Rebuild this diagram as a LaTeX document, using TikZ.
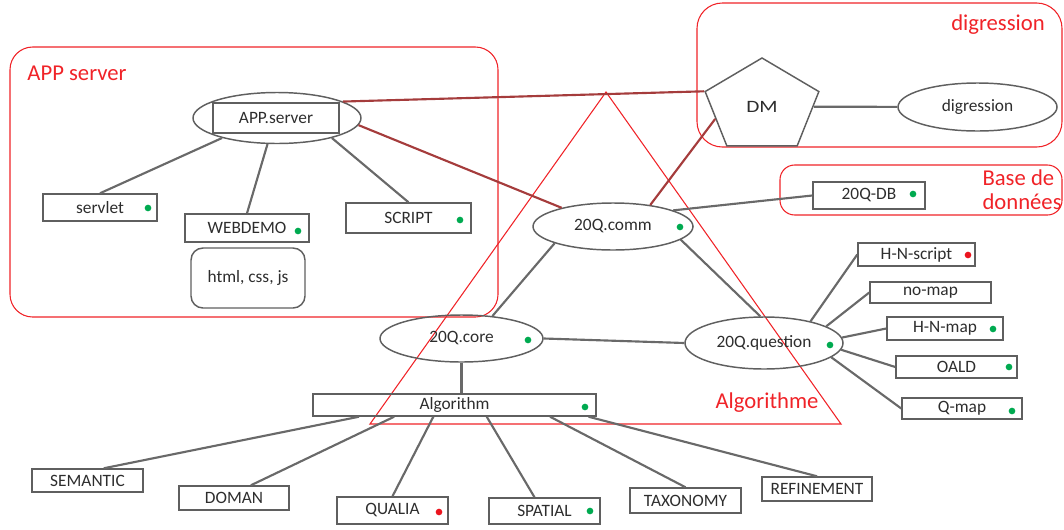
\documentclass[tikz,border=0pt]{standalone}
\usepackage{fontspec}
\setmainfont{Carlito}
\usepackage{tikz}
\usetikzlibrary{shapes.geometric}

\definecolor{boxgray}{RGB}{95,95,95}
\definecolor{linegray}{RGB}{105,105,105}
\definecolor{darkred}{RGB}{165,60,60}
\definecolor{zonered}{RGB}{240,35,40}
\definecolor{dotgreen}{RGB}{0,170,80}
\definecolor{dotred}{RGB}{235,20,30}
\definecolor{txt}{RGB}{45,45,45}

\begin{document}
\begin{tikzpicture}[x=0.75pt, y=-0.75pt, thick, font=\fontsize{13}{15}\selectfont,
  box/.style={rectangle, draw=boxgray, line width=1.1pt, inner sep=0pt, text=txt},
  oval/.style={ellipse, draw=boxgray, line width=1.1pt, inner sep=0pt, text=txt},
  pent/.style={regular polygon, regular polygon sides=5, draw=boxgray, line width=1.1pt, inner sep=0pt, text=txt},
  link/.style={draw=linegray, line width=1.6pt},
  tie/.style={draw=darkred, line width=1.6pt},
  zone/.style={draw=zonered, line width=0.8pt, rounded corners=#1},
  zonelabel/.style={text=zonered, inner sep=0pt, font=\fontsize{17}{18}\selectfont},
  okdot/.style={circle, fill=dotgreen, inner sep=0pt, minimum size=5pt},
  kodot/.style={okdot, fill=dotred}]

\useasboundingbox (0,0) rectangle (1064,529);

% zones
\draw[zone=17pt] (10,47) rectangle (498,317);
\draw[zone=19pt] (697,3) rectangle (1062,147);
\draw[zone=11pt] (780,165) rectangle (1062,215);
\draw[zone=0pt] (606,92) -- (841,424) -- (370,424) -- cycle;
\node[zonelabel] (appzone) at (77,73) {APP server};
\node[zonelabel] (digzone) at (998,25) {digression};
\node[zonelabel, align=left, anchor=west] (dbzone) at (982,190) {Base de\\données};
\node[zonelabel] (algozone) at (767,403) {Algorithme};

% app server
\node[box, minimum width=94.5pt, minimum height=22.5pt] (appbox) at (276,118) {APP.server};
\node[oval, minimum width=126pt, minimum height=38.25pt] (app) at (277,118) {};
\node[box, minimum width=85.5pt, minimum height=20.25pt] (servlet) at (100,207.5) {servlet};
\node[box, minimum width=93pt, minimum height=21pt] (webdemo) at (247,228) {WEBDEMO};
\node[box, rounded corners=9pt, minimum width=85.5pt, minimum height=45pt] (webfiles) at (248,278) {html, css, js};
\node[box, minimum width=93.75pt, minimum height=22.5pt] (script) at (408.5,218) {SCRIPT};

% comm, dm, db
\node[oval, minimum width=120pt, minimum height=35.25pt] (comm) at (613,226.5) {20Q.comm};
\node[pent, minimum size=72.9pt, xscale=1.23] (dm) at (762,106.6) {DM};
\node[oval, minimum width=119.25pt, minimum height=36pt] (dig) at (977.5,107) {digression};
\node[box, minimum width=84pt, minimum height=20.25pt] (db) at (869,195.5) {20Q-DB};

% core, question
\node[oval, minimum width=122.25pt, minimum height=35.25pt] (core) at (461.5,338.5) {20Q.core};
\node[oval, minimum width=118.5pt, minimum height=39pt] (question) at (764,343) {20Q.question};
\node[box, minimum width=87.75pt, minimum height=17.25pt] (hnscript) at (916.5,254.5) {H-N-script};
\node[box, minimum width=90.75pt, minimum height=15.75pt] (nomap) at (930.5,292.5) {no-map};
\node[box, minimum width=87pt, minimum height=17.25pt] (hnmap) at (945,328.5) {H-N-map};
\node[box, minimum width=90.75pt, minimum height=16.5pt] (oald) at (956.5,367) {OALD};
\node[box, minimum width=90pt, minimum height=15.75pt] (qmap) at (962,408.5) {Q-map};

% algorithm
\node[box, minimum width=212.25pt, minimum height=16.5pt] (algo) at (454.5,405) {Algorithm};
\node[box, minimum width=83.25pt, minimum height=17.25pt] (semantic) at (87.5,480.5) {SEMANTIC};
\node[box, minimum width=82.5pt, minimum height=18pt] (doman) at (234,498) {DOMAN};
\node[box, minimum width=83.25pt, minimum height=20.25pt] (qualia) at (392.5,510.5) {QUALIA};
\node[box, minimum width=83.25pt, minimum height=19.5pt] (spatial) at (544.5,511) {SPATIAL};
\node[box, minimum width=83.25pt, minimum height=18.75pt] (taxonomy) at (685.5,500.5) {TAXONOMY};
\node[box, minimum width=82.5pt, minimum height=18pt] (refinement) at (817,489) {REFINEMENT};

% status dots
\node[okdot] (servletdot) at (148,208) {};
\node[okdot] (webdemodot) at (298,231) {};
\node[okdot] (scriptdot) at (460,220) {};
\node[okdot] (commdot) at (680,227) {};
\node[okdot] (dbdot) at (913,194) {};
\node[kodot] (hnscriptdot) at (968,255) {};
\node[okdot] (hnmapdot) at (993,329) {};
\node[okdot] (oalddot) at (1009,367) {};
\node[okdot] (qmapdot) at (1012,411) {};
\node[okdot] (questiondot) at (830,345) {};
\node[okdot] (coredot) at (528,340) {};
\node[okdot] (algodot) at (585,407) {};
\node[kodot] (qualiadot) at (439,512) {};
\node[okdot] (spatialdot) at (590,511) {};

\path[link]
(app.200) edge (servlet.north)
(app.250) edge (webdemo.north)
(app.340) edge (script.north)
(comm.196) edge (core.36)
(comm.349) edge (question.98)
(comm.15) edge (db.west)
(dm) edge (dig)
(core.east) edge (question.west)
(core.south) edge (core.south |- algo.north)
(question.25) edge (hnscript.west)
(question.15) edge (nomap.west)
(question.4) edge (hnmap.west)
(question.355) edge (oald.west)
(question.348) edge (qmap.west)
(algo.187) edge (semantic.37)
(algo.191) edge (doman.37)
(algo.209) edge (qualia.north)
(algo.340) edge (spatial.126)
(algo.353) edge (taxonomy.north)
(algo.355) edge (refinement.north);
\path[tie]
(app.14) edge (dm.corner 2)
(app.355) edge (comm.160)
(dm.side 2) edge (comm.30);
\end{tikzpicture}
\end{document}
